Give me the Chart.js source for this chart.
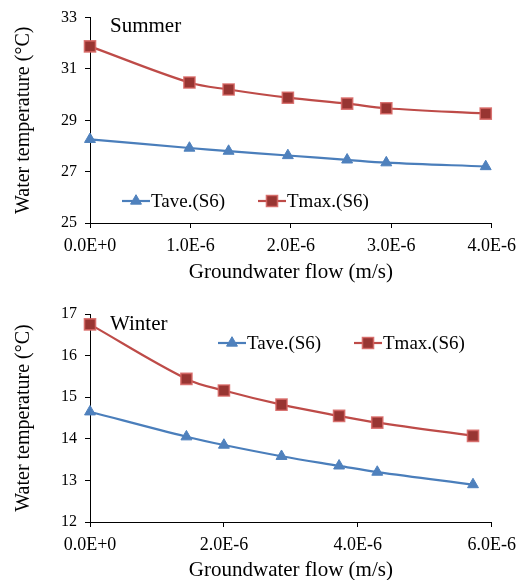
<!DOCTYPE html>
<html>
<head>
<meta charset="utf-8">
<script src="https://cdn.jsdelivr.net/npm/chart.js@4.4.1/dist/chart.umd.min.js"></script>
<style>
  body { margin: 0; background: #fff; }
  canvas { display: block; }
</style>
</head>
<body>
<canvas id="summerChart" width="523" height="290"></canvas>
<canvas id="winterChart" width="523" height="290"></canvas>
<script>
// groundwater flow in units of 1E-6 m/s
const summerFlow = [0, 0.99, 1.38, 1.97, 2.56, 2.95, 3.94];
const summerTave = [28.26, 27.92, 27.80, 27.63, 27.46, 27.35, 27.20];
const summerTmax = [31.88, 30.47, 30.20, 29.88, 29.65, 29.47, 29.26];

const winterFlow = [0, 1.44, 2.00, 2.86, 3.72, 4.29, 5.72];
const winterTave = [14.65, 14.05, 13.85, 13.58, 13.35, 13.20, 12.90];
const winterTmax = [16.75, 15.44, 15.16, 14.82, 14.55, 14.39, 14.07];

const seriesLabels = ['Tave.(S6)', 'Tmax.(S6)'];
const yTitle = 'Water temperature (\u00B0C)';
const xTitle = 'Groundwater flow (m/s)';

const serif = '"Liberation Serif", "Times New Roman", serif';
Chart.defaults.color = '#000';
Chart.defaults.font.family = serif;

function toPoints(xs, ys) {
    return xs.map((x, i) => ({ x: x, y: ys[i] }));
}

function formatFlow(v) {
    if (v === 0) return '0.0E+0';
    return v.toFixed(1) + 'E-6';
}

// season label + legend drawn inside the plot, like the original
const insideLegend = {
    id: 'insideLegend',
    afterDraw(chart, args, opts) {
        const ctx = chart.ctx;
        ctx.save();
        ctx.fillStyle = '#000';
        ctx.textBaseline = 'alphabetic';
        ctx.font = '21px ' + serif;
        ctx.fillText(opts.label, opts.labelX, opts.labelY);

        ctx.font = '19px ' + serif;
        chart.data.datasets.forEach((ds, i) => {
            const x = opts.itemX[i];
            const y = opts.itemY;
            ctx.strokeStyle = ds.borderColor;
            ctx.lineWidth = ds.borderWidth;
            ctx.beginPath();
            ctx.moveTo(x, y);
            ctx.lineTo(x + 28, y);
            ctx.stroke();

            ctx.fillStyle = ds.pointBackgroundColor;
            ctx.strokeStyle = ds.pointBorderColor;
            ctx.lineWidth = ds.pointBorderWidth;
            if (Chart.helpers && Chart.helpers.drawPoint) {
                Chart.helpers.drawPoint(ctx, {
                    pointStyle: ds.pointStyle,
                    radius: ds.pointRadius,
                    borderWidth: ds.pointBorderWidth,
                    rotation: 0
                }, x + 14, y);
            }
            ctx.fillStyle = '#000';
            ctx.fillText(ds.label, x + 29, y + 5.5);
        });
        ctx.restore();
    }
};

function makeChart(id, flow, tave, tmax, cfg) {
    const ctx = document.getElementById(id).getContext('2d');
    return new Chart(ctx, {
        type: 'line',
        data: {
            datasets: [
                {
                    label: seriesLabels[0],
                    data: toPoints(flow, tave),
                    borderColor: '#4A7EBB',
                    borderWidth: 2.2,
                    pointStyle: 'triangle',
                    pointRadius: 6.3,
                    pointBackgroundColor: '#4F81BD',
                    pointBorderColor: '#4F81BD',
                    pointBorderWidth: 1,
                    tension: 0.35,
                    clip: false
                },
                {
                    label: seriesLabels[1],
                    data: toPoints(flow, tmax),
                    borderColor: '#BE4B48',
                    borderWidth: 2.2,
                    pointStyle: 'rect',
                    pointRadius: 7.8,
                    pointBackgroundColor: '#983532',
                    pointBorderColor: 'rgba(214, 100, 98, 0.85)',
                    pointBorderWidth: 1.6,
                    tension: 0.35,
                    clip: false
                }
            ]
        },
        options: {
            responsive: false,
            animation: false,
            layout: {
                padding: { top: cfg.padTop, right: 30, left: 0, bottom: 0 }
            },
            plugins: {
                legend: { display: false },
                tooltip: { enabled: false },
                insideLegend: cfg.legend
            },
            scales: {
                x: {
                    type: 'linear',
                    min: 0,
                    max: cfg.xMax,
                    afterFit: scale => { scale.height = cfg.xHeight; },
                    ticks: {
                        stepSize: cfg.xStep,
                        padding: 7,
                        font: { size: 18 },
                        callback: v => formatFlow(v)
                    },
                    grid: { drawOnChartArea: false, tickLength: 5, color: '#000' },
                    border: { color: '#000', width: 1 },
                    title: {
                        display: true,
                        text: xTitle,
                        font: { size: 21, lineHeight: 1 },
                        padding: { top: 0, bottom: cfg.xTitlePad }
                    }
                },
                y: {
                    min: cfg.yMin,
                    max: cfg.yMax,
                    afterFit: scale => { scale.width = 90; },
                    ticks: {
                        stepSize: cfg.yStep,
                        padding: 8,
                        font: { size: 16 }
                    },
                    grid: { drawOnChartArea: false, tickLength: 5, color: '#000' },
                    border: { color: '#000', width: 1 },
                    title: {
                        display: true,
                        text: yTitle,
                        font: { size: 20, lineHeight: 1 },
                        padding: { top: 14, bottom: 0 }
                    }
                }
            }
        },
        plugins: [insideLegend]
    });
}

makeChart('summerChart', summerFlow, summerTave, summerTmax, {
    padTop: 15, xHeight: 67, xMax: 4, xStep: 1, xTitlePad: 7,
    yMin: 25, yMax: 33, yStep: 2,
    legend: { label: 'Summer', labelX: 110, labelY: 32, itemX: [122, 258], itemY: 201 }
});

makeChart('winterChart', winterFlow, winterTave, winterTmax, {
    padTop: 24, xHeight: 58, xMax: 6, xStep: 2, xTitlePad: -1,
    yMin: 12, yMax: 17, yStep: 1,
    legend: { label: 'Winter', labelX: 110, labelY: 40, itemX: [218, 354], itemY: 53 }
});
</script>
</body>
</html>
